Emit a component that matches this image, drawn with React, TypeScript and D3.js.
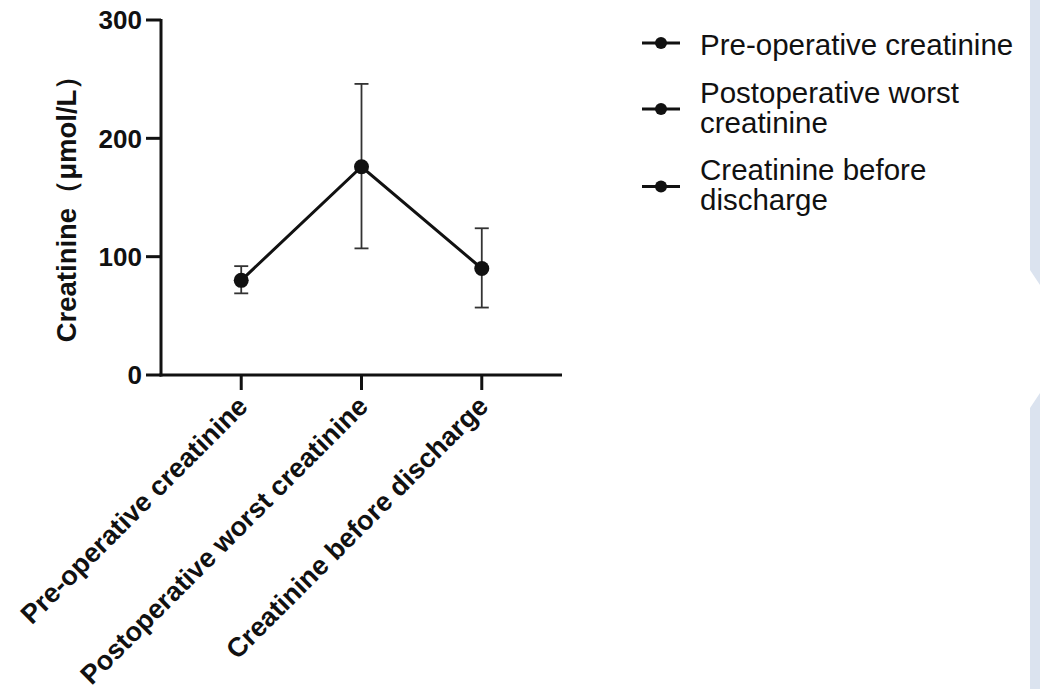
import React from "react";
import * as d3 from "d3";

const categories = [
  "Pre-operative creatinine",
  "Postoperative worst creatinine",
  "Creatinine before discharge",
];
const means = [80, 176, 90];
const upperValues = [92, 246, 124];
const lowerValues = [69, 107, 57];
const yTicks = [0, 100, 200, 300];
const legendLines = [
  ["Pre-operative creatinine"],
  ["Postoperative worst", "creatinine"],
  ["Creatinine before", "discharge"],
];
const yLabel = "Creatinine（μmol/L）";

const W = 1040;
const H = 689;
const FONT = "'Liberation Sans', Arial, Helvetica, sans-serif";

export default function App() {
  const left = 161;
  const right = 562;
  const top = 20;
  const bottom = 375;

  const x = d3.scalePoint<string>().domain(categories).range([left, right]).padding(0.667);
  const y = d3.scaleLinear().domain([0, 300]).range([bottom, top]);

  const line = d3
    .line<number>()
    .x((_, i) => x(categories[i]) as number)
    .y((d) => y(d));

  const legendX = 642;
  const legendTextX = 700;
  const lineH = 30;
  const itemGap = 17.5;
  let cursor = 55;
  const legendItems = legendLines.map((lines) => {
    const first = cursor;
    const lastBase = first + (lines.length - 1) * lineH;
    const markerY = (first + lastBase) / 2 - (lines.length > 1 ? 8.5 : 12);
    cursor = lastBase + lineH + itemGap;
    return { lines, first, markerY };
  });

  return (
    <div style={{ position: "absolute", left: 0, top: 0 }}>
      <svg width={W} height={H} style={{ display: "block", background: "#fff" }}>
        <rect x={0} y={0} width={W} height={H} fill="#fff" />
        {/* right strip */}
        <rect x={1030} y={0} width={10} height={H} fill="#dbe3ef" />
        <polygon points="1030,270 1040,285 1040,393 1030,408" fill="#fff" />

        {/* y axis */}
        <line x1={left} x2={left} y1={top - 1} y2={bottom + 1.5} stroke="#111" strokeWidth={3} />
        {yTicks.map((t) => (
          <g key={t}>
            <line x1={left - 15} x2={left} y1={y(t)} y2={y(t)} stroke="#111" strokeWidth={3} />
            <text
              x={left - 19}
              y={y(t)}
              dy="0.36em"
              textAnchor="end"
              fontFamily={FONT}
              fontWeight="bold"
              fontSize={26}
              fill="#111"
            >
              {t}
            </text>
          </g>
        ))}
        <text
          transform={`translate(76, 202) rotate(-90)`}
          textAnchor="middle"
          fontFamily={FONT}
          fontWeight="bold"
          fontSize={27.5}
          fill="#111"
        >
          {yLabel}
        </text>

        {/* x axis */}
        <line x1={left - 1.5} x2={right} y1={bottom} y2={bottom} stroke="#111" strokeWidth={3} />
        {categories.map((c) => {
          const cx = x(c) as number;
          return (
            <g key={c}>
              <line x1={cx} x2={cx} y1={bottom} y2={bottom + 15} stroke="#111" strokeWidth={3} />
              <text
                transform={`translate(${cx + 8}, ${bottom + 33}) rotate(-45)`}
                textAnchor="end"
                fontFamily={FONT}
                fontWeight="bold"
                fontSize={27}
                fill="#111"
              >
                {c}
              </text>
            </g>
          );
        })}

        {/* error bars */}
        {categories.map((c, i) => {
          const cx = x(c) as number;
          return (
            <g key={"e" + c} stroke="#333" strokeWidth={1.8}>
              <line x1={cx} x2={cx} y1={y(upperValues[i])} y2={y(lowerValues[i])} />
              <line x1={cx - 7} x2={cx + 7} y1={y(upperValues[i])} y2={y(upperValues[i])} />
              <line x1={cx - 7} x2={cx + 7} y1={y(lowerValues[i])} y2={y(lowerValues[i])} />
            </g>
          );
        })}

        {/* connecting line */}
        <path d={line(means) || ""} fill="none" stroke="#111" strokeWidth={3} />
        {means.map((m, i) => (
          <circle key={i} cx={x(categories[i]) as number} cy={y(m)} r={7.5} fill="#111" />
        ))}

        {/* legend */}
        {legendItems.map((it, i) => (
          <g key={i}>
            <line x1={legendX} x2={legendX + 38} y1={it.markerY} y2={it.markerY} stroke="#111" strokeWidth={3} />
            <circle cx={legendX + 19} cy={it.markerY} r={6} fill="#111" />
            {it.lines.map((ln, j) => (
              <text
                key={j}
                x={legendTextX}
                y={it.first + j * lineH}
                fontFamily={FONT}
                fontSize={29.5}
                fill="#111"
              >
                {ln}
              </text>
            ))}
          </g>
        ))}
      </svg>
    </div>
  );
}
